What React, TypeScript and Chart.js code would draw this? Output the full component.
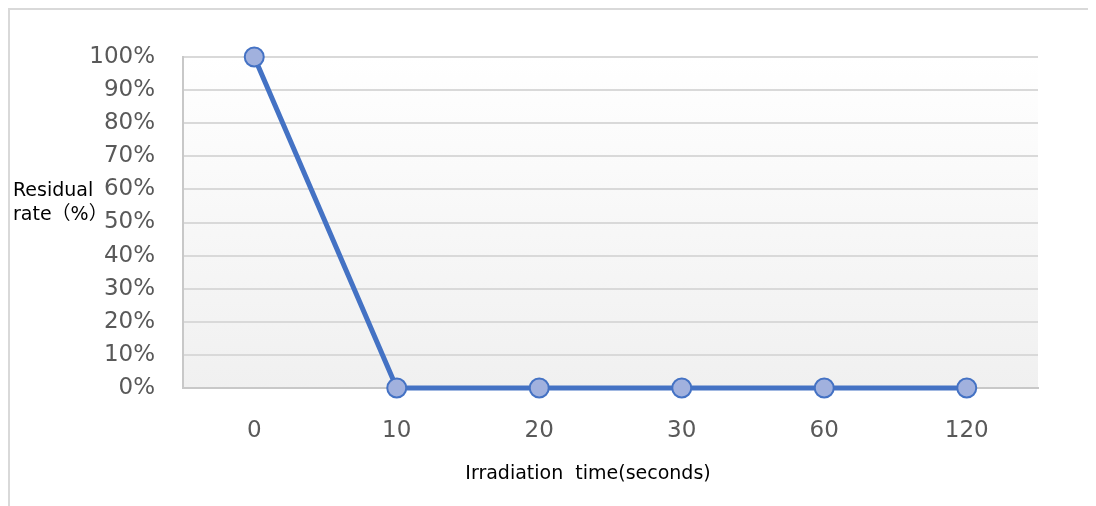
import React, { useEffect, useRef } from "react";
import { Chart, registerables } from "chart.js";

Chart.register(...registerables);

const categories = ["0", "10", "20", "30", "60", "120"];
const residualRate = [100, 0, 0, 0, 0, 0];
const yTitleLines = ["Residual", "rate（%）"];
const xTitle = "Irradiation  time(seconds)";

const bgPlugin = {
  id: "plotBg",
  beforeDraw(chart: any) {
    const { ctx, chartArea } = chart;
    if (!chartArea) return;
    const g = ctx.createLinearGradient(0, chartArea.top, 0, chartArea.bottom);
    g.addColorStop(0, "#ffffff");
    g.addColorStop(1, "#f0f0f0");
    ctx.save();
    ctx.fillStyle = g;
    ctx.fillRect(chartArea.left, chartArea.top, chartArea.right - chartArea.left, chartArea.bottom - chartArea.top);
    ctx.restore();
  },
};

const titlePlugin = {
  id: "titles",
  afterDraw(chart: any) {
    const { ctx } = chart;
    ctx.save();
    ctx.fillStyle = "#000000";
    ctx.font = '19px "DejaVu Sans", "Noto Sans CJK JP", sans-serif';
    ctx.textAlign = "left";
    ctx.textBaseline = "middle";
    ctx.fillText(yTitleLines[0], 3, 181);
    ctx.fillText(yTitleLines[1], 3, 205);
    ctx.textAlign = "center";
    ctx.fillText(xTitle, 578, 464);
    ctx.restore();
  },
};

export default function App() {
  const ref = useRef<HTMLCanvasElement | null>(null);
  useEffect(() => {
    document.documentElement.style.overflow = "hidden";
    document.body.style.overflow = "hidden";
    if (!ref.current) return;
    const chart = new Chart(ref.current, {
      type: "line",
      data: {
        labels: categories,
        datasets: [
          {
            data: residualRate,
            borderColor: "#4472C4",
            borderWidth: 5,
            pointRadius: 9.5,
            pointBorderWidth: 2,
            pointBackgroundColor: "#a1b1de",
            pointBorderColor: "#4472C4",
            tension: 0,
            clip: false,
          },
        ],
      },
      options: {
        animation: false,
        responsive: false,
        maintainAspectRatio: false,
        layout: { padding: { top: 47, right: 58, left: 0, bottom: 0 } },
        plugins: { legend: { display: false }, tooltip: { enabled: false } },
        scales: {
          x: {
            offset: true,
            grid: { display: false, drawTicks: false },
            border: { display: true, color: "#c8c8c8", width: 2 },
            ticks: {
              color: "#595959",
              font: { family: '"DejaVu Sans", sans-serif', size: 23 },
              padding: 29,
            },
            afterFit(axis: any) {
              axis.height = 118;
            },
          },
          y: {
            min: 0,
            max: 100,
            grid: { color: "#d9d9d9", lineWidth: 2, drawTicks: false },
            border: { display: true, color: "#c8c8c8", width: 2 },
            ticks: {
              stepSize: 10,
              color: "#595959",
              font: { family: '"DejaVu Sans", sans-serif', size: 23 },
              padding: 28,
              callback: (v: any) => v + "%",
            },
            afterFit(axis: any) {
              axis.width = 173;
            },
          },
        },
      },
      plugins: [bgPlugin, titlePlugin],
    });
    return () => chart.destroy();
  }, []);
  return (
    <div
      style={{
        width: 1088,
        height: 498,
        boxSizing: "border-box",
        borderTop: "2px solid #d9d9d9",
        borderLeft: "2px solid #d9d9d9",
        background: "#ffffff",
      }}
    >
      <canvas ref={ref} width={1086} height={496} style={{ display: "block" }} />
    </div>
  );
}
